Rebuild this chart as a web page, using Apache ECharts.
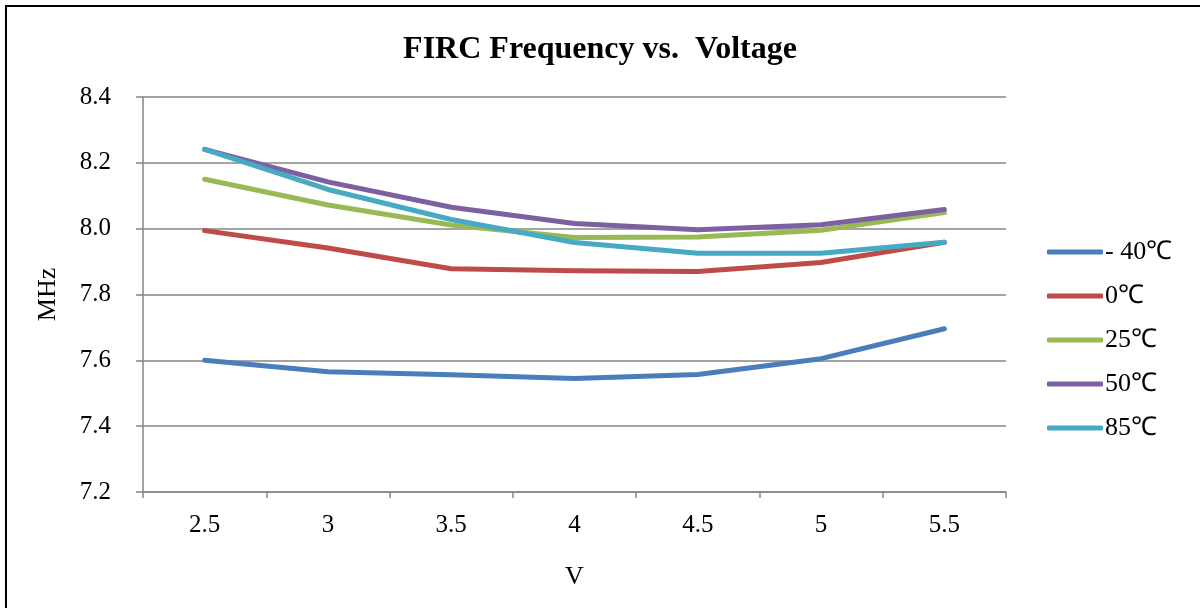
<!DOCTYPE html>
<html>
<head>
<meta charset="utf-8">
<script src="https://cdn.jsdelivr.net/npm/echarts@6/dist/echarts.min.js"></script>
<style>
html,body{margin:0;padding:0;background:#fff;}
#c{width:1200px;height:608px;}
</style>
</head>
<body>
<div id="c"></div>
<script>
const categories = ['2.5', '3', '3.5', '4', '4.5', '5', '5.5'];
const seriesNames = ['- 40℃', '0℃', '25℃', '50℃', '85℃'];
const sM40 = [7.600, 7.565, 7.556, 7.545, 7.557, 7.605, 7.696];
const s0   = [7.994, 7.941, 7.878, 7.872, 7.870, 7.897, 7.959];
const s25  = [8.150, 8.072, 8.011, 7.973, 7.975, 7.995, 8.049];
const s50  = [8.241, 8.142, 8.065, 8.016, 7.997, 8.012, 8.058];
const s85  = [8.241, 8.119, 8.028, 7.958, 7.925, 7.925, 7.959];
const colors = ['#4A7EBB', '#BE4B48', '#98B954', '#7D60A0', '#46AAC5'];
const allData = [sM40, s0, s25, s50, s85];

const FONT = '"Liberation Serif", "Times New Roman", serif';
const chart = echarts.init(document.getElementById('c'));
chart.setOption({
  backgroundColor: '#fff',
  animation: false,
  title: {
    text: 'FIRC Frequency vs.  Voltage',
    left: 'center',
    top: 29,
    textStyle: { fontFamily: FONT, fontWeight: 'bold', fontSize: 32, color: '#000' }
  },
  graphic: [{
    type: 'rect',
    shape: { x: 6, y: 6, width: 1210, height: 620 },
    style: { fill: 'none', stroke: '#000', lineWidth: 2 },
    silent: true
  }],
  legend: {
    orient: 'vertical',
    left: 1042,
    top: 234,
    itemWidth: 56,
    itemHeight: 5,
    itemGap: 18,
    icon: 'roundRect',
    data: seriesNames,
    textStyle: { fontFamily: FONT, fontSize: 26, color: '#000', padding: [0, 0, 0, -3] }
  },
  grid: { left: 143, right: 194, top: 97, bottom: 116 },
  xAxis: {
    type: 'category',
    data: categories,
    boundaryGap: true,
    name: 'V',
    nameLocation: 'middle',
    nameGap: 72,
    nameTextStyle: { fontFamily: FONT, fontSize: 26, color: '#000' },
    axisLine: { lineStyle: { color: '#868686', width: 1.5 } },
    axisTick: { show: true, length: 6, alignWithLabel: false, lineStyle: { color: '#868686', width: 1.5 } },
    axisLabel: { fontFamily: FONT, fontSize: 25, color: '#000', margin: 21 }
  },
  yAxis: {
    type: 'value',
    min: 7.2,
    max: 8.4,
    interval: 0.2,
    name: 'MHz',
    nameLocation: 'middle',
    nameGap: 82,
    nameRotate: 90,
    nameTextStyle: { fontFamily: FONT, fontSize: 26, color: '#000' },
    axisLine: { show: true, lineStyle: { color: '#868686', width: 1.5 } },
    axisTick: { show: true, length: 7, lineStyle: { color: '#868686', width: 1.5 } },
    axisLabel: { fontFamily: FONT, fontSize: 25, color: '#000', margin: 32, formatter: v => v.toFixed(1) },
    splitLine: { lineStyle: { color: '#868686', width: 1.5 } }
  },
  series: seriesNames.map((n, i) => ({
    name: n,
    type: 'line',
    data: allData[i],
    symbol: 'none',
    smooth: false,
    color: colors[i],
    lineStyle: { width: 5, color: colors[i], cap: 'round', join: 'round' },
    itemStyle: { color: colors[i] }
  }))
});
</script>
</body>
</html>
